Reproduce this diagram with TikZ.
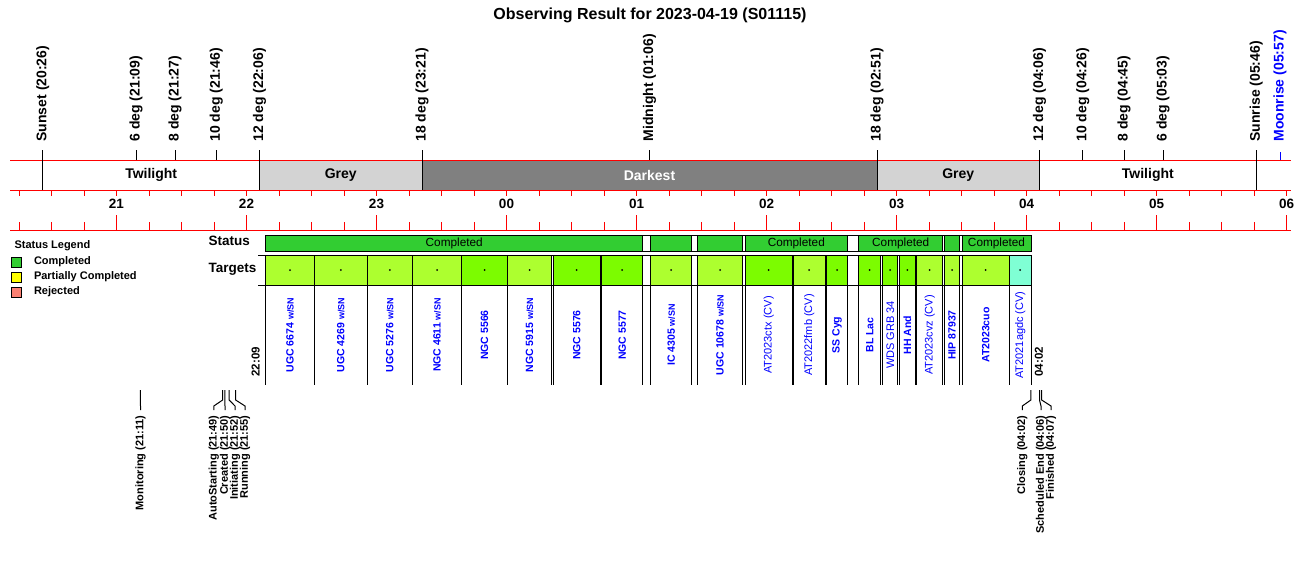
\documentclass[tikz,border=0pt]{standalone}
\usepackage{fontspec}
\setmainfont{Liberation Sans}

\definecolor{axisRed}{RGB}{255,0,0}
\definecolor{bandGrey}{RGB}{211,211,211}
\definecolor{bandDark}{RGB}{128,128,128}
\definecolor{statGreen}{RGB}{50,205,50}
\definecolor{tgYellow}{RGB}{173,255,47}
\definecolor{tgLawn}{RGB}{124,252,0}
\definecolor{tgAqua}{RGB}{127,255,212}
\definecolor{legYellow}{RGB}{255,255,0}
\definecolor{legSalmon}{RGB}{250,128,114}
\definecolor{nameBlue}{RGB}{0,0,255}

\newcommand\sn{{\fontsize{9}{9}\selectfont w/SN}}
\newcommand\tnb{\fontsize{10.5}{10.5}\selectfont\bfseries}
\newcommand\tnm{\fontsize{11}{11}\selectfont}

\tikzset{
	toplbl/.style={rotate=90, anchor=west, inner sep=0pt,
		font=\fontsize{14}{14}\selectfont\bfseries},
	bandlbl/.style={inner sep=0pt, font=\fontsize{14}{14}\selectfont\bfseries},
	hourlbl/.style={inner sep=0pt, font=\fontsize{13.5}{13.5}\selectfont\bfseries},
	rowlbl/.style={anchor=west, inner sep=0pt, font=\fontsize{13.5}{13.5}\selectfont\bfseries},
	stattxt/.style={inner sep=0pt, font=\fontsize{11.8}{11.8}\selectfont},
	tname/.style={rotate=90, inner sep=0pt, text=nameBlue},
	evlbl/.style={rotate=90, anchor=east, inner sep=0pt,
		font=\fontsize{11}{11}\selectfont\bfseries},
	leglbl/.style={anchor=west, inner sep=0pt, font=\fontsize{11}{11}\selectfont\bfseries},
}

\begin{document}
\begin{tikzpicture}[x=1pt, y=-1pt, line width=1pt]

	% ---- parameters

	\def\xo{116.5}  % x of 21:00
	\def\xh{130}    % width of one hour

	\useasboundingbox (0,0) rectangle (1300,560);

	% ---- title

	\node[inner sep=0pt, font=\fontsize{16}{16}\selectfont\bfseries] (title) at (650,15)
		{Observing Result for 2023-04-19 (S01115)};

	% ---- bands

	\fill[bandGrey] ({\xo+\xh*1.1},160) rectangle ({\xo+\xh*2.35},190);
	\fill[bandDark] ({\xo+\xh*2.35},160) rectangle ({\xo+\xh*5.85},190);
	\fill[bandGrey] ({\xo+\xh*5.85},160) rectangle ({\xo+\xh*7.1},190);

	\draw[axisRed] (10,160) -- (1291,160);
	\draw[axisRed] (10,190) -- (1291,190);
	\draw[axisRed] (10,230) -- (1291,230);

	\node[bandlbl] (twl1) at ({\xo+\xh*(-34/60+1.1)/2},175) {Twilight};
	\node[bandlbl] (grey1) at ({\xo+\xh*(1.1+2.35)/2},175) {Grey};
	\node[bandlbl, text=white] (dark) at ({\xo+\xh*(2.35+5.85)/2},175) {Darkest};
	\node[bandlbl] (grey2) at ({\xo+\xh*(5.85+7.1)/2},175) {Grey};
	\node[bandlbl] (twl2) at ({\xo+\xh*(7.1+8.7667)/2},175) {Twilight};

	% ---- time axis

	\foreach \q in {0,...,39} {
		\pgfmathsetmacro\xx{\xo+\xh*(\q/4-0.75)}
		\draw[axisRed] (\xx,190) -- (\xx,195.5);
		\draw[axisRed] (\xx,222) -- (\xx,230);
	}
	\foreach \h/\lbl in {0/21,1/22,2/23,3/00,4/01,5/02,6/03,7/04,8/05,9/06} {
		\draw[axisRed] ({\xo+\xh*\h},215) -- ({\xo+\xh*\h},230);
		\node[hourlbl] (hr\h) at ({\xo+\xh*\h},204) {\lbl};
	}

	% ---- sun and twilight marks

	\foreach \h/\m/\lbl/\yb [count=\i] in {
		-1/26/Sunset (20:26)/190,
		0/9/6 deg (21:09)/160,
		0/27/8 deg (21:27)/160,
		0/46/10 deg (21:46)/160,
		1/6/12 deg (22:06)/190,
		2/21/18 deg (23:21)/190,
		4/6/Midnight (01:06)/160,
		5/51/18 deg (02:51)/190,
		7/6/12 deg (04:06)/190,
		7/26/10 deg (04:26)/160,
		7/45/8 deg (04:45)/160,
		8/3/6 deg (05:03)/160,
		8/46/Sunrise (05:46)/190} {
		\pgfmathsetmacro\xx{\xo+\xh*(\h+\m/60)}
		\draw (\xx,150) -- (\xx,\yb);
		\node[toplbl] (top\i) at (\xx,142) {\lbl};
	}

	\pgfmathsetmacro\xx{\xo+\xh*(8+57/60)}
	\draw[nameBlue] (\xx,152) -- (\xx,160);
	\node[toplbl, text=nameBlue] (moon) at (\xx,142) {Moonrise (05:57)};

	% ---- legend

	\node[leglbl] (legend) at (14,246) {Status Legend};
	\foreach \fc/\lbl/\yy [count=\i] in {statGreen/Completed/262,
		legYellow/Partially Completed/277, legSalmon/Rejected/292} {
		\draw[fill=\fc] (11.5,\yy-5) rectangle (21.5,\yy+5);
		\node[leglbl] (leg\i) at (33.5,\yy) {\lbl};
	}

	% ---- status row

	\node[rowlbl] (status) at (208,241) {Status};
	\draw (265.7,235) -- (1031,235);
	\draw (265.7,251) -- (1031,251);
	\foreach \xa/\xb/\txt [count=\i] in {265.7/642.7/Completed, 650.7/691.7/,
		697.3/742.7/, 745.3/847.3/Completed, 858.7/942.7/Completed,
		944.7/959.3/, 962/1031/Completed} {
		\draw[fill=statGreen] (\xa,235) rectangle (\xb,251);
		\node[stattxt] (st\i) at ({(\xa+\xb)/2},243) {\txt};
	}

	% ---- targets row

	\node[rowlbl] (targets) at (208,269) {Targets};
	\draw (258,255) -- (1031,255);
	\draw (258,285) -- (1031,285);
	\foreach \xa/\xb/\fc/\fw/\nm [count=\i] in {
		265.7/314.3/tgYellow/\tnb/UGC 6674 \sn,
		314.3/367.3/tgYellow/\tnb/UGC 4269 \sn,
		367.3/412.3/tgYellow/\tnb/UGC 5276 \sn,
		412.3/461.7/tgYellow/\tnb/NGC 4611 \sn,
		461.7/507.3/tgLawn/\tnb/NGC 5566,
		507.3/551.7/tgYellow/\tnb/NGC 5915 \sn,
		553.3/600/tgLawn/\tnb/NGC 5576,
		601.7/642.7/tgLawn/\tnb/NGC 5577,
		650.7/691.7/tgYellow/\tnb/IC 4305 \sn,
		697.3/742.7/tgYellow/\tnb/UGC 10678 \sn,
		745.3/792/tgLawn/\tnm/AT2023ctx (CV),
		793.3/825/tgYellow/\tnm/AT2022fmb (CV),
		826.7/847.3/tgLawn/\tnb/SS Cyg,
		858.7/880.7/tgLawn/\tnb/BL Lac,
		882.7/897.7/tgLawn/\tnm/WDS GRB 34,
		899.3/915.3/tgLawn/\tnb/HH And,
		916.7/942.7/tgYellow/\tnm/AT2023cvz (CV),
		944.7/959.3/tgYellow/\tnb/HIP 87937,
		962/1009.3/tgYellow/\tnb/AT2023cuo,
		1009.3/1031/tgAqua/\tnm/AT2021agdc (CV)} {
		\draw[fill=\fc] (\xa,255) rectangle (\xb,285);
		\fill ({(\xa+\xb)/2},270) circle (1);
		\draw (\xa,285) -- (\xa,385);
		\draw (\xb,285) -- (\xb,385);
		\node[tname, font=\fw] (tg\i) at ({(\xa+\xb)/2},335) {\nm};
	}

	\node[rotate=90, anchor=west, inner sep=0pt, font=\fontsize{11.5}{11.5}\selectfont\bfseries]
		(start) at (255.7,377) {22:09};
	\node[rotate=90, anchor=west, inner sep=0pt, font=\fontsize{11.5}{11.5}\selectfont\bfseries]
		(stop) at (1039,377) {04:02};

	% ---- schedule events

	\foreach \h/\m/\lx/\lbl [count=\i] in {
		0/11/140.5/Monitoring (21:11),
		0/49/213.8/AutoStarting (21:49),
		0/50/225/Created (21:50),
		0/52/235/Initiating (21:52),
		0/55/245/Running (21:55),
		7/2/1022.3/Closing (04:02),
		7/6/1041/Scheduled End (04:06),
		7/7/1051/Finished (04:07)} {
		\pgfmathsetmacro\xx{\xo+\xh*(\h+\m/60)}
		\draw (\xx,390) -- (\xx,400) -- (\lx,406) -- (\lx,410);
		\node[evlbl] (ev\i) at (\lx,415) {\lbl};
	}

\end{tikzpicture}
\end{document}
